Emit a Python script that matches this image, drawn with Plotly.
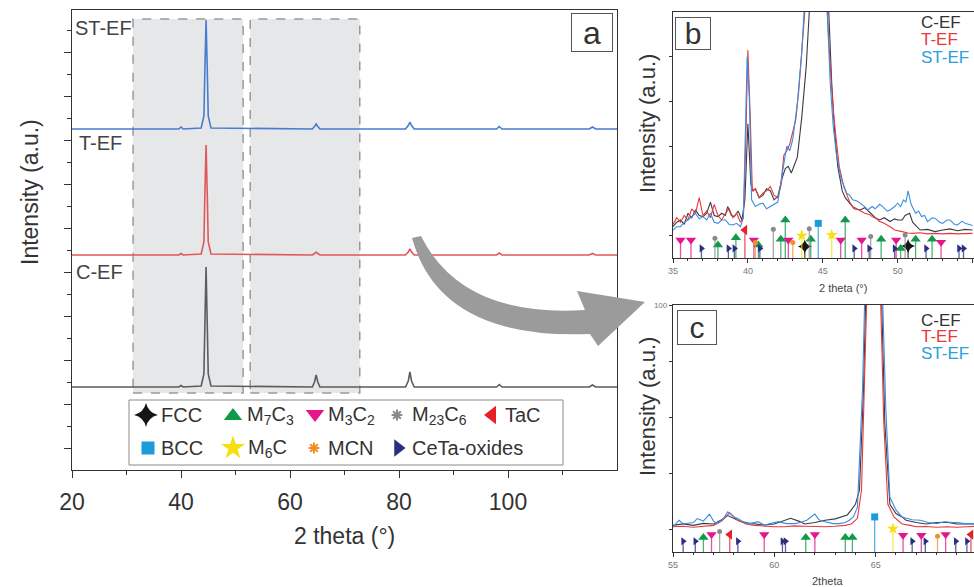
import plotly.graph_objects as go

W, H = 974, 587
FONT = "Liberation Sans, Arial, sans-serif"
TXT = "#333333"


def px(v):
    return v / W


def py(v):
    return 1 - v / H


# ---------------- panel a : full patterns (offset stacked) ----------------
A_X = [20, 39.6, 40.0, 40.4, 43.7, 44.2, 44.4, 44.6, 44.8, 45.0, 45.5, 64.1, 64.5, 64.8,
       65.1, 65.5, 81.2, 81.7, 82.0, 82.3, 82.8, 97.9, 98.4, 98.9, 114.9, 115.5, 116.1, 120]
A_C_Y = [83, 83, 84.5, 83, 84, 96, 150, 203, 150, 96, 84, 83, 88, 95, 88, 83, 83, 89, 98,
         89, 83, 83, 85.5, 83, 83, 85, 83, 83]
A_T_Y = [215, 215, 216.5, 215, 216, 228, 280, 325, 280, 228, 216, 215, 216.5, 218, 216.5,
         215, 215, 218, 221, 218, 215, 215, 217, 215, 215, 216.5, 215, 215]
A_ST_Y = [341, 341, 343, 341, 342, 354, 405, 450, 405, 354, 342, 341, 343.5, 346, 343.5,
          341, 341, 344.5, 348, 344.5, 341, 341, 343.5, 341, 341, 343, 341, 341]
ZOOM_RANGES = [(31.2, 51.4), (52.7, 72.8)]

# ---------------- panel b : 35-55 deg ----------------
B_C_X = [35.0, 35.25, 35.5, 35.75, 36.0, 36.25, 36.5, 36.75, 37.0, 37.25, 37.5, 37.75, 38.0,
         38.25, 38.5, 38.65, 38.9, 39.1, 39.35, 39.6, 39.8, 40.0, 40.2, 40.35, 40.5, 40.75,
         41.0, 41.25, 41.5, 41.75, 42.0, 42.3, 42.5, 42.7, 42.9, 43.1, 43.3, 43.6, 43.9, 44.1,
         44.7, 45.4, 45.6, 45.8, 46.0, 46.3, 46.5, 46.8, 47.1, 47.5, 47.8, 48.2, 48.5, 48.8,
         49.1, 49.5, 49.8, 50.0, 50.3, 50.5, 50.8, 51.0, 51.3, 51.5, 52.0, 52.5, 53.0, 53.5,
         54.0, 54.5, 55.0]
B_C_Y = [4, 6, 7, 5, 10, 8, 11.5, 9, 8.5, 10, 15, 9, 8.5, 10, 9, 13, 9, 8.5, 11, 7, 16, 50,
         23, 20, 21, 17, 18, 21, 20, 16, 17.5, 26, 30, 31, 28, 32, 35, 53, 76, 100, 400, 100,
         68, 46, 31, 20, 17, 14.5, 12, 11.5, 12.5, 10, 8, 7, 8, 6.3, 7.5, 7, 7, 9, 10, 6, 4,
         2.5, 2.8, 1.8, 2.5, 3, 2.2, 2.8, 2.5]
B_T_X = [35.0, 35.25, 35.5, 35.75, 36.0, 36.25, 36.5, 36.75, 37.0, 37.25, 37.5, 37.75, 38.0,
         38.25, 38.5, 38.75, 39.0, 39.25, 39.5, 39.7, 39.85, 40.0, 40.15, 40.3, 40.5, 40.75,
         41.0, 41.25, 41.5, 41.75, 42.0, 42.2, 42.4, 42.6, 42.8, 43.0, 43.2, 43.4, 43.6, 43.8,
         44.6, 45.3, 45.5, 45.7, 45.9, 46.1, 46.4, 46.6, 46.8, 47.0, 47.3, 47.6, 47.8, 48.1,
         48.3, 48.6, 48.8, 49.1, 49.3, 49.6, 49.8, 50.1, 50.3, 50.7, 51.0, 51.5, 52.0, 52.5,
         53.0, 53.5, 54.0, 55.0]
B_T_Y = [5, 8, 6, 9, 7, 12, 10, 17, 9, 11, 8, 14, 9, 7, 10, 12, 8, 10, 6, 8, 40, 83, 55, 20,
         21, 17, 19, 20, 22, 18, 17, 22, 36, 38, 41, 46, 52, 65, 83, 100, 400, 100, 76, 56, 43,
         31, 22, 18, 15, 13, 12, 11, 10, 9.5, 8.5, 7.5, 6.3, 5.5, 4.8, 3.5, 2.5, 2.2, 1.8, 1.2,
         1, 1.3, 0.8, 1, 0.8, 1, 0.8, 1]
B_ST_X = [35.0, 35.25, 35.5, 35.75, 36.0, 36.25, 36.5, 36.75, 37.0, 37.25, 37.5, 37.75, 38.0,
          38.25, 38.5, 38.75, 39.0, 39.25, 39.5, 39.7, 39.85, 39.95, 40.1, 40.25, 40.5, 40.75,
          41.0, 41.25, 41.5, 41.75, 42.0, 42.3, 42.6, 42.8, 43.0, 43.3, 43.6, 43.75, 44.6,
          45.3, 45.5, 45.7, 45.9, 46.2, 46.4, 46.6, 46.8, 47.0, 47.3, 47.5, 47.8, 48.0, 48.3,
          48.5, 48.8, 49.0, 49.3, 49.5, 49.8, 50.0, 50.2, 50.4, 50.55, 50.7, 50.9, 51.2, 51.4,
          51.6, 51.8, 52.0, 52.3, 52.5, 52.8, 53.0, 53.3, 53.5, 53.8, 54.0, 54.3, 54.5, 55.0]
B_ST_Y = [2.5, 4, 4, 6, 7, 8.5, 10, 7.5, 8.5, 7, 10, 6, 5.5, 7, 7, 5, 4.8, 5.5, 4, 8, 61, 80,
          61, 16, 13, 14, 14.5, 12, 13, 14, 15, 28, 40, 38, 43, 59, 82, 100, 400, 100, 68, 49,
          37, 26, 22, 19, 18, 16, 15.5, 14.5, 13, 11.5, 13, 12, 14, 13, 11, 11.5, 13, 14.5, 13,
          16, 15, 20, 14, 10, 11, 8.5, 9, 6.3, 8, 7.8, 6, 5.5, 7, 7, 5, 4.8, 6.5, 5.5, 4.5]

# ---------------- panel c : 55-70 deg ----------------
C_C_X = [55.0, 55.5, 56.0, 56.5, 57.0, 57.4, 57.7, 58.0, 58.3, 58.7, 59.0, 59.5, 60.0, 60.4,
         60.8, 61.2, 61.5, 62.0, 62.5, 63.0, 63.3, 63.6, 63.8, 64.0, 64.2, 64.4, 64.5, 64.9,
         65.3, 65.45, 65.7, 66.0, 66.3, 66.5, 67.0, 67.5, 68.0, 68.5, 69.0, 69.5, 70.0]
C_C_Y = [21.5, 22, 21.5, 22.2, 22, 23.5, 25, 24, 23, 22.3, 22, 21.6, 22, 23, 24, 23, 22, 22.5,
         23.3, 23.8, 24.5, 25.2, 27, 29, 34, 70, 100, 300, 100, 58, 29, 25.7, 24.5, 23.3, 22.5,
         22, 22.5, 22.6, 22, 22, 22]
C_T_X = [55.0, 55.5, 56.0, 56.5, 57.0, 57.4, 57.8, 58.2, 58.6, 59.0, 59.5, 60.0, 60.5, 61.0,
         61.5, 62.0, 62.5, 63.0, 63.5, 63.8, 64.1, 64.3, 64.45, 64.55, 64.9, 65.25, 65.4, 65.6,
         65.9, 66.3, 66.7, 67.0, 67.5, 68.0, 68.5, 69.0, 69.5, 70.0]
C_T_Y = [21, 21.2, 20.8, 21.1, 21.5, 23, 26, 23.3, 22, 21.5, 21.2, 21, 21, 21.3, 21.2, 21.1,
         21, 21.2, 21.5, 22, 24, 34, 70, 100, 300, 100, 58, 29, 24.5, 22, 21.5, 21, 21.1, 20.8,
         21, 20.8, 21, 21.2]
C_ST_X = [55.0, 55.3, 55.5, 55.7, 56.0, 56.2, 56.5, 56.8, 57.0, 57.2, 57.5, 57.7, 58.0, 58.2,
          58.5, 58.8, 59.2, 59.5, 59.8, 60.2, 60.6, 61.0, 61.3, 61.6, 62.0, 62.2, 62.5, 62.9,
          63.2, 63.5, 63.7, 63.9, 64.1, 64.35, 64.45, 64.9, 65.35, 65.5, 65.7, 66.0, 66.3,
          66.5, 66.8, 67.2, 67.6, 68.0, 68.4, 68.8, 69.0, 69.4, 70.0]
C_ST_Y = [21, 23.3, 22, 22.1, 22.5, 23.9, 23, 25.5, 23, 22.1, 24, 26.3, 24.5, 23.9, 22.5, 22.1,
          22.8, 21.6, 22, 22.8, 22.1, 22.1, 22.5, 23.3, 25.5, 23.5, 22.8, 22.1, 22.1, 22.5,
          23.3, 24.5, 28, 70, 100, 300, 100, 63, 31.5, 27, 24.5, 24, 23.5, 23.3, 22.5, 22.1,
          22.8, 22.5, 22.5, 22.1, 22.1]

# ---------------- reference phase positions (stem tops) ----------------
B_FCC_X, B_FCC_Y = [43.8, 50.7], [-4.9, -4.6]
B_M7C3_X = [38.0, 39.2, 40.7, 42.2, 42.5, 44.2, 46.5, 48.9, 50.2, 51.2, 52.3]
B_M7C3_Y = [-4.2, -0.9, -4.2, -1.6, 7, -1.6, 7, -1.6, -5.7, -1.6, -1.6]
B_M3C2_X = [35.5, 36.2, 40.4, 42.7, 46.2, 47.6, 49.9, 52.9]
B_M3C2_Y = [-2, -2, -2, -2, -2, -2, -2, -3]
B_M23C6_X = [37.8, 41.7, 44.1, 48.2, 50.5]
B_M23C6_Y = [-1.2, 2.8, 3.1, -0.4, 0.3]
B_TAC_X, B_TAC_Y = [39.8], [2.5]
B_BCC_X, B_BCC_Y = [44.7], [5.5]
B_M6C_X, B_M6C_Y = [43.6, 45.6], [0, 0.3]
B_MCN_X, B_MCN_Y = [40.5, 43.0], [-3.1, -3.1]
B_CETA_X = [36.9, 38.7, 39.1, 40.8, 47.1, 48.1, 49.8, 51.9, 54.1, 54.4]
B_CETA_Y = [-5.7, -5.7, -5.7, -5.7, -5.7, -5.7, -5.7, -5.7, -5.7, -5.7]

C_FCC_X, C_FCC_Y = [], []
C_M7C3_X, C_M7C3_Y = [56.5, 61.55, 63.5, 63.85], [17.2, 17.2, 17.2, 17.2]
C_M3C2_X = [56.9, 59.5, 62.0, 66.35, 67.25, 68.45]
C_M3C2_Y = [18.2, 18.2, 18.2, 18.0, 18.0, 18.2]
C_M23C6_X, C_M23C6_Y = [57.3], [19.3]
C_TAC_X, C_TAC_Y = [57.8, 69.7], [18.2, 18.2]
C_BCC_X, C_BCC_Y = [64.95], [24.5]
C_M6C_X, C_M6C_Y = [65.85], [20.3]
C_MCN_X, C_MCN_Y = [68.05], [17.6]
C_CETA_X = [55.5, 56.1, 58.2, 60.4, 60.55, 66.8, 67.45, 68.95, 69.5]
C_CETA_Y = [15.8, 15.8, 15.8, 15.8, 15.8, 15.8, 15.8, 15.8, 15.8]

# name(html), symbol panel, symbol legend, color, size panel, size legend,
# b-data, c-data, legend marker pos, legend text pos
PHASES = [
    ("FCC", "star-diamond", "star-diamond", "#151515", 10, 17,
     (B_FCC_X, B_FCC_Y), (C_FCC_X, C_FCC_Y), (146, 415), (159, 415)),
    ("M<sub>7</sub>C<sub>3</sub>", "triangle-up", "triangle-up", "#0e9a48", 9, 16,
     (B_M7C3_X, B_M7C3_Y), (C_M7C3_X, C_M7C3_Y), (233, 416), (245, 415)),
    ("M<sub>3</sub>C<sub>2</sub>", "triangle-down", "triangle-down", "#e5158a", 9, 16,
     (B_M3C2_X, B_M3C2_Y), (C_M3C2_X, C_M3C2_Y), (315, 414), (326, 415)),
    ("M<sub>23</sub>C<sub>6</sub>", "circle", "asterisk-open", "#8a8a8a", 5, 9,
     (B_M23C6_X, B_M23C6_Y), (C_M23C6_X, C_M23C6_Y), (397, 415), (410, 415)),
    ("TaC", "triangle-left", "triangle-left", "#e62129", 9, 16,
     (B_TAC_X, B_TAC_Y), (C_TAC_X, C_TAC_Y), (492, 415), (503, 415)),
    ("BCC", "square", "square", "#1b9bd7", 7, 13,
     (B_BCC_X, B_BCC_Y), (C_BCC_X, C_BCC_Y), (148, 448), (159, 448)),
    ("M<sub>6</sub>C", "star", "star", "#f5e10f", 9, 18,
     (B_M6C_X, B_M6C_Y), (C_M6C_X, C_M6C_Y), (233, 448), (246, 448)),
    ("MCN", "circle", "asterisk-open", "#f0902a", 5, 9,
     (B_MCN_X, B_MCN_Y), (C_MCN_X, C_MCN_Y), (314, 448), (326, 448)),
    ("CeTa-oxides", "triangle-right", "triangle-right", "#2b2d82", 7, 15,
     (B_CETA_X, B_CETA_Y), (C_CETA_X, C_CETA_Y), (398, 448), (410, 448)),
]

A_COLORS = {"C-EF": "#5c5c5c", "T-EF": "#e0585a", "ST-EF": "#4a7bd0"}
BC_COLORS = {"C-EF": "#3a3a48", "T-EF": "#e8393a", "ST-EF": "#3b8de0"}
LBL_COLORS = {"C-EF": "#333333", "T-EF": "#e8393a", "ST-EF": "#2aa0dc"}

fig = go.Figure()

# panel a traces
for name, ys in (("C-EF", A_C_Y), ("T-EF", A_T_Y), ("ST-EF", A_ST_Y)):
    fig.add_trace(go.Scatter(x=A_X, y=ys, mode="lines", xaxis="x", yaxis="y",
                             line=dict(color=A_COLORS[name], width=1.6), showlegend=False))


def stems(xs, ys, base):
    sx, sy = [], []
    for x, y in zip(xs, ys):
        sx += [x, x, None]
        sy += [base, y, None]
    return sx, sy


# panels b and c
for axx, axy, base, series, pidx in (
        ("x2", "y2", -10, (("C-EF", B_C_X, B_C_Y), ("T-EF", B_T_X, B_T_Y), ("ST-EF", B_ST_X, B_ST_Y)), 6),
        ("x3", "y3", 12, (("C-EF", C_C_X, C_C_Y), ("T-EF", C_T_X, C_T_Y), ("ST-EF", C_ST_X, C_ST_Y)), 7)):
    for name, xs, ys in series:
        fig.add_trace(go.Scatter(x=xs, y=ys, mode="lines", xaxis=axx, yaxis=axy,
                                 line=dict(color=BC_COLORS[name], width=1.1), showlegend=False))
    for ph in PHASES:
        xs, ys = ph[pidx]
        if not xs:
            continue
        sx, sy = stems(xs, ys, base)
        fig.add_trace(go.Scatter(x=sx, y=sy, mode="lines", xaxis=axx, yaxis=axy,
                                 line=dict(color=ph[3], width=1.3), opacity=0.75,
                                 showlegend=False))
        fig.add_trace(go.Scatter(x=xs, y=ys, mode="markers", xaxis=axx, yaxis=axy,
                                 marker=dict(symbol=ph[1], color=ph[3], size=ph[4],
                                             line=dict(width=0)),
                                 showlegend=False))

# legend markers of panel a (pixel overlay axis)
for ph in PHASES:
    (mx, my) = ph[8]
    fig.add_trace(go.Scatter(x=[mx], y=[my], mode="markers", xaxis="x4", yaxis="y4",
                             marker=dict(symbol=ph[2], color=ph[3], size=ph[5],
                                         line=dict(width=2 if "open" in ph[2] else 0,
                                                   color=ph[3])),
                             showlegend=False))


def ann(x, y, text, size, color=TXT, xanchor="center", yanchor="middle", **kw):
    return dict(x=x, y=y, xref="x4", yref="y4", text=text, showarrow=False,
                font=dict(family=FONT, size=size, color=color),
                xanchor=xanchor, yanchor=yanchor, **kw)


annotations = []
# panel a labels
annotations.append(ann(73, 28, "ST-EF", 20, "#444", xanchor="left"))
annotations.append(ann(77, 143, "T-EF", 20, "#444", xanchor="left"))
annotations.append(ann(74, 272, "C-EF", 20, "#444", xanchor="left"))
annotations.append(ann(30, 192, "Intensity (a.u.)", 23, textangle=-90))
annotations.append(ann(344, 536, "2 theta (°)", 23))
annotations.append(ann(592, 32, "a", 32, bordercolor="#555", borderwidth=1, borderpad=0,
                       bgcolor="white", width=40, height=37))
# legend text
for ph in PHASES:
    tx, ty = ph[9]
    annotations.append(ann(tx, ty, ph[0], 20, xanchor="left"))

# panel b/c texts
annotations.append(ann(647, 124, "Intensity (a.u.)", 22, textangle=-90))
annotations.append(ann(647, 407, "Intensity (a.u.)", 22, textangle=-90))
annotations.append(ann(693, 33, "b", 30, bordercolor="#555", borderwidth=1, borderpad=0,
                       bgcolor="white", width=34, height=31))
annotations.append(ann(697, 327, "c", 30, bordercolor="#555", borderwidth=1, borderpad=0,
                       bgcolor="white", width=38, height=33))
for (yy, name) in ((22, "C-EF"), (39.5, "T-EF"), (57, "ST-EF")):
    annotations.append(ann(919, yy, name, 17, LBL_COLORS[name], xanchor="left"))
for (yy, name) in ((320, "C-EF"), (336.5, "T-EF"), (353, "ST-EF")):
    annotations.append(ann(919, yy, name, 17, LBL_COLORS[name], xanchor="left"))
annotations.append(ann(843, 288, "2 theta (°)", 11, "#444"))
annotations.append(ann(827, 581, "2theta", 11, "#444"))

# shapes
shapes = []
for (x0, x1) in ZOOM_RANGES:
    shapes.append(dict(type="rect", xref="x", yref="y", x0=x0, x1=x1, y0=77, y1=451,
                       fillcolor="#e6e7e8", line=dict(color="#9a9a9a", width=1.5, dash="dash"),
                       layer="below"))
# legend box
shapes.append(dict(type="rect", xref="paper", yref="paper", x0=px(129), x1=px(563),
                   y0=py(465), y1=py(400), fillcolor="white",
                   line=dict(color="#8a8a8a", width=1), layer="below"))


def P(x, y):
    return f"{px(x):.4f},{py(y):.4f}"


arrow = (f"M {P(412, 238)} Q {P(440, 340)} {P(590, 334)} L {P(598, 346)} L {P(645, 302)} "
         f"L {P(577, 291)} L {P(585, 310)} Q {P(462, 318)} {P(421, 236)} Z")
shapes.append(dict(type="path", xref="paper", yref="paper", path=arrow,
                   fillcolor="#9b9b9b", line=dict(width=0), layer="above"))

axis_common = dict(showgrid=False, zeroline=False, linecolor="#333", linewidth=1.4,
                   tickcolor="#333", ticks="outside", automargin=False)

fig.update_layout(
    width=W, height=H, margin=dict(l=0, r=0, t=0, b=0, pad=0, autoexpand=False),
    paper_bgcolor="white", plot_bgcolor="rgba(0,0,0,0)",
    font=dict(family=FONT, color=TXT),
    showlegend=False,
    xaxis=dict(domain=[px(72), px(617)], anchor="y", range=[20, 120], mirror=True,
               tickvals=[20, 40, 60, 80, 100], ticklen=7, tickwidth=1.4,
               tickfont=dict(size=23, color=TXT), ticklabelstandoff=4,
               minor=dict(tickvals=[30, 50, 70, 90, 110], ticklen=4, ticks="outside",
                          tickcolor="#333", tickwidth=1.2),
               **axis_common),
    yaxis=dict(domain=[py(470), py(10)], anchor="x", range=[0, 460], mirror=True,
               tickvals=[22, 66, 110, 154, 198, 242, 286, 330, 374, 418],
               showticklabels=False, ticklen=7, tickwidth=1.4,
               minor=dict(tickvals=[44, 88, 132, 176, 220, 264, 308, 352, 396, 440],
                          ticklen=4, ticks="outside", tickcolor="#333", tickwidth=1.2),
               **axis_common),
    xaxis2=dict(domain=[px(673), 1], anchor="y2", range=[35, 55.1], mirror=True,
                tickvals=[35, 40, 45, 50, 55], ticklen=4, tickwidth=1,
                tickfont=dict(size=9, color="#777"),
                minor=dict(dtick=1, tick0=35, ticklen=2, ticks="outside", tickcolor="#333"),
                showgrid=False, zeroline=False, linecolor="#333", linewidth=1.3,
                tickcolor="#333", ticks="outside", automargin=False),
    yaxis2=dict(domain=[py(258), py(12)], anchor="x2", range=[-10, 100],
                tickvals=[0, 20, 40, 60, 80], showticklabels=False, ticklen=3,
                showgrid=False, zeroline=False, linecolor="#333", linewidth=1.3,
                tickcolor="#333", ticks="outside", automargin=False),
    xaxis3=dict(domain=[px(673), 1], anchor="y3", range=[55, 69.85], mirror=True,
                tickvals=[55, 60, 65, 70], ticklen=4, tickwidth=1,
                tickfont=dict(size=9, color="#777"),
                minor=dict(dtick=1, tick0=55, ticklen=2, ticks="outside", tickcolor="#333"),
                showgrid=False, zeroline=False, linecolor="#333", linewidth=1.3,
                tickcolor="#333", ticks="outside", automargin=False),
    yaxis3=dict(domain=[py(552), py(305)], anchor="x3", range=[12, 100],
                tickvals=[100], tickfont=dict(size=8, color="#777"), ticklen=3,
                minor=dict(tickvals=[20, 40, 60, 80], ticklen=3, ticks="outside",
                           tickcolor="#333"),
                showgrid=False, zeroline=False, linecolor="#333", linewidth=1.3,
                tickcolor="#333", ticks="outside", automargin=False),
    xaxis4=dict(domain=[0, 1], anchor="y4", range=[0, W], visible=False, fixedrange=True),
    yaxis4=dict(domain=[0, 1], anchor="x4", range=[H, 0], visible=False, fixedrange=True),
    annotations=annotations,
    shapes=shapes,
)

fig.write_html("out.html")
